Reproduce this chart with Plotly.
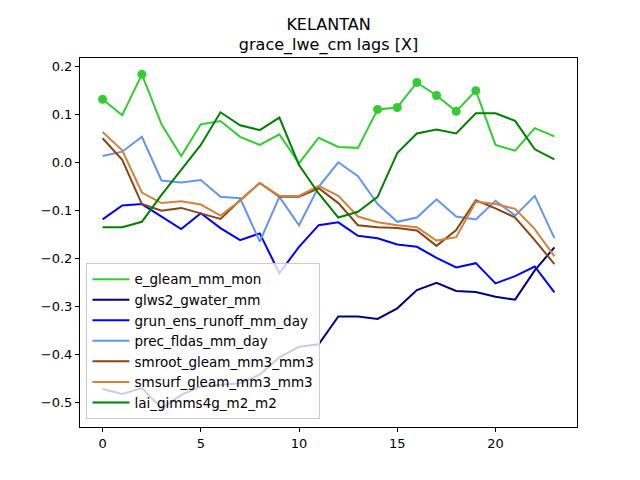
import plotly.graph_objects as go

lags = list(range(24))

e_gleam_mm_mon = [0.131, 0.098, 0.183, 0.079, 0.013, 0.079, 0.086, 0.053, 0.036, 0.058,
                  -0.002, 0.051, 0.032, 0.030, 0.110, 0.114, 0.166, 0.139, 0.106, 0.149,
                  0.036, 0.024, 0.071, 0.054]
glws2_gwater_mm = [-0.472, -0.482, -0.470, -0.512, -0.484, -0.467, -0.463, -0.460, -0.442, -0.406,
                   -0.384, -0.379, -0.321, -0.321, -0.326, -0.304, -0.266, -0.251, -0.268, -0.270,
                   -0.280, -0.286, -0.225, -0.177]
grun_ens_runoff_mm_day = [-0.119, -0.090, -0.087, -0.113, -0.139, -0.106, -0.137, -0.162, -0.148, -0.231,
                          -0.176, -0.131, -0.125, -0.153, -0.158, -0.171, -0.176, -0.199, -0.219, -0.210,
                          -0.252, -0.237, -0.217, -0.271]
prec_fldas_mm_day = [0.013, 0.022, 0.053, -0.038, -0.042, -0.037, -0.072, -0.075, -0.165, -0.072,
                     -0.131, -0.051, 0.000, -0.029, -0.087, -0.124, -0.115, -0.077, -0.113, -0.119,
                     -0.080, -0.111, -0.070, -0.158]
smroot_gleam_mm3_mm3 = [0.050, 0.005, -0.087, -0.101, -0.095, -0.106, -0.118, -0.079, -0.043, -0.072,
                        -0.072, -0.054, -0.085, -0.131, -0.135, -0.137, -0.142, -0.174, -0.141, -0.079,
                        -0.096, -0.115, -0.162, -0.212]
smsurf_gleam_mm3_mm3 = [0.063, 0.025, -0.063, -0.085, -0.081, -0.088, -0.111, -0.080, -0.043, -0.070,
                        -0.070, -0.049, -0.070, -0.113, -0.125, -0.131, -0.135, -0.163, -0.156, -0.082,
                        -0.087, -0.097, -0.139, -0.196]
lai_gimms4g_m2_m2 = [-0.135, -0.135, -0.124, -0.068, -0.016, 0.036, 0.104, 0.077, 0.067, 0.093,
                     -0.006, -0.065, -0.115, -0.103, -0.072, 0.019, 0.060, 0.068, 0.060, 0.102,
                     0.102, 0.086, 0.027, 0.006]

# lags where e_gleam is marked
e_gleam_sig = [0, 2, 14, 15, 16, 17, 18, 19]

series = [
    ("e_gleam_mm_mon", e_gleam_mm_mon, "#32CD32"),
    ("glws2_gwater_mm", glws2_gwater_mm, "#000080"),
    ("grun_ens_runoff_mm_day", grun_ens_runoff_mm_day, "#0000FF"),
    ("prec_fldas_mm_day", prec_fldas_mm_day, "#6495ED"),
    ("smroot_gleam_mm3_mm3", smroot_gleam_mm3_mm3, "#8B4513"),
    ("smsurf_gleam_mm3_mm3", smsurf_gleam_mm3_mm3, "#CD853F"),
    ("lai_gimms4g_m2_m2", lai_gimms4g_m2_m2, "#008000"),
]

fig = go.Figure()
for name, vals, color in series:
    fig.add_trace(go.Scatter(x=lags, y=vals, mode="lines", name=name,
                             line=dict(color=color, width=2)))
    if name == "e_gleam_mm_mon":
        fig.add_trace(go.Scatter(
            x=[lags[i] for i in e_gleam_sig], y=[vals[i] for i in e_gleam_sig],
            mode="markers", marker=dict(color=color, size=9), showlegend=False))

axis_style = dict(showline=True, linecolor="black", linewidth=1, mirror=True,
                  ticks="outside", ticklen=4, tickcolor="black", showgrid=False,
                  zeroline=False, tickfont=dict(size=13, color="black"))

# page body adds an 8px offset, margins compensate for it
fig.update_layout(
    width=640, height=480,
    paper_bgcolor="white", plot_bgcolor="white",
    font=dict(family="DejaVu Sans", color="black"),
    title=dict(text="KELANTAN<br>grace_lwe_cm lags [X]", xref="paper", x=0.5, xanchor="center",
               yref="container", y=0.955, yanchor="middle", font=dict(size=16)),
    margin=dict(l=72, r=71, t=50, b=61),
    legend=dict(x=0.013, y=0.022, xanchor="left", yanchor="bottom", itemwidth=37,
                bgcolor="rgba(255,255,255,0.8)", bordercolor="#cccccc", borderwidth=1,
                font=dict(size=13.5)),
    xaxis=dict(range=[-1.15, 24.15], tickvals=[0, 5, 10, 15, 20], **axis_style),
    yaxis=dict(range=[-0.551, 0.217], tickvals=[-0.5, -0.4, -0.3, -0.2, -0.1, 0.0, 0.1, 0.2],
               ticktext=["\u22120.5", "\u22120.4", "\u22120.3", "\u22120.2", "\u22120.1", "0.0", "0.1", "0.2"],
               **axis_style),
)

fig.write_html("out.html")
